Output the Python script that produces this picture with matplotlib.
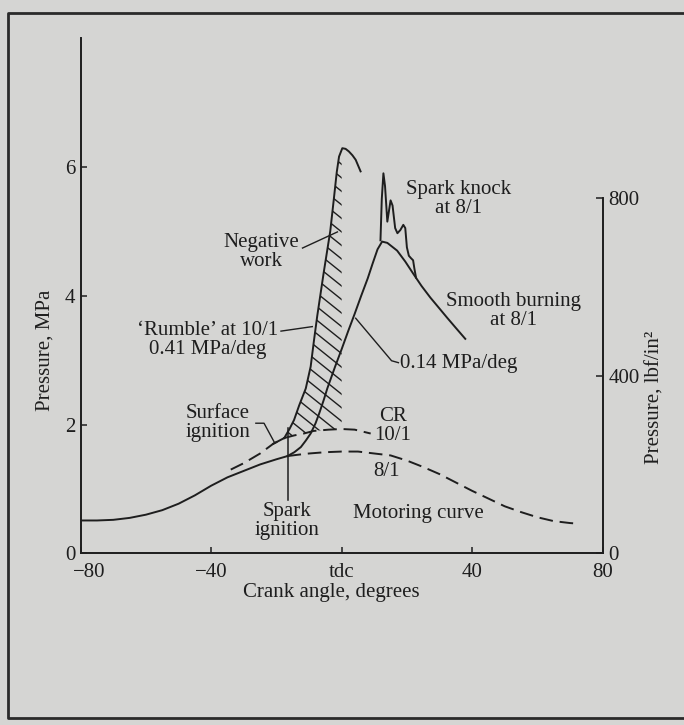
import numpy as np
import matplotlib
matplotlib.use('Agg')
from matplotlib import pyplot as plt
from matplotlib.collections import LineCollection
from matplotlib.patches import Polygon
from matplotlib.lines import Line2D
from matplotlib.transforms import ScaledTranslation

# crank angle (deg) / pressure (MPa)
mot8_ang = [-80, -75, -70, -65, -60, -55, -50, -45, -40, -35, -30, -25, -20, -16.6]
mot8_p = [0.51, 0.51, 0.52, 0.55, 0.60, 0.67, 0.77, 0.90, 1.05, 1.18, 1.28, 1.38, 1.46, 1.51]

mot8_dash_ang = [-16.6, -13.5, -10, -5, 0, 5, 10, 15, 20, 25, 30, 35, 40, 45, 50, 55, 60, 65, 70, 72.6]
mot8_dash_p = [1.51, 1.53, 1.55, 1.57, 1.58, 1.58, 1.55, 1.52, 1.44, 1.34, 1.23, 1.10, 0.97, 0.85,
               0.73, 0.64, 0.56, 0.50, 0.47, 0.46]

mot10_ang = [-34, -30, -25, -21, -17.6, -14.6, -11.6, -8.6, -4, 0, 4, 8.9]
mot10_p = [1.30, 1.40, 1.55, 1.70, 1.79, 1.83, 1.86, 1.90, 1.92, 1.93, 1.92, 1.86]

rumble_ang = [-17.6, -16, -14.6, -13, -11, -9.5, -8.5, -7.5, -6.5, -5.5, -4.5, -3.5, -2.4, -1.5,
              -0.8, 0.2, 1.2, 2.2, 3.3, 4.3, 5.8]
rumble_p = [1.79, 1.93, 2.07, 2.30, 2.56, 2.90, 3.30, 3.68, 4.02, 4.36, 4.68, 5.00, 5.50, 5.92,
            6.16, 6.29, 6.28, 6.24, 6.18, 6.11, 5.93]

smooth_ang = [-16.6, -14.5, -12.5, -11, -9.5, -8, -6.9, -5.5, -4.4, -2, 0, 2, 4, 6, 8, 9.5, 11,
              12.4, 14, 17, 19.5, 22.1, 24.5, 27.2, 30, 32.3, 35, 37.9]
smooth_p = [1.51, 1.57, 1.65, 1.75, 1.86, 2.02, 2.17, 2.38, 2.56, 2.90, 3.17, 3.45, 3.72, 4.00,
            4.27, 4.50, 4.72, 4.84, 4.82, 4.70, 4.53, 4.33, 4.15, 3.97, 3.80, 3.66, 3.50, 3.33]

knock_ang = [11.9, 12.3, 12.8, 13.3, 14.0, 15.0, 15.6, 16.4, 17.1, 18.0, 18.9, 19.5, 20.0, 20.6,
             21.3, 21.9, 22.3, 22.8]
knock_p = [4.86, 5.50, 5.90, 5.70, 5.15, 5.48, 5.40, 5.05, 4.97, 5.02, 5.10, 5.05, 4.75, 4.62,
           4.58, 4.55, 4.42, 4.28]

spark_ang = -16.6
xticks = [-80, -40, 0, 40, 80]
xticklabels = ['\u221280', '\u221240', 'tdc', '40', '80']
yticks = [0, 2, 4, 6]
psi_ticks = [0, 400, 800]
MPA_TO_PSI = 145.038

ink = '#1e1e1e'
bg = '#d5d5d3'
lw = 1.4
plt.rcParams['font.family'] = ['Liberation Serif', 'DejaVu Serif']
plt.rcParams['font.size'] = 15

fig = plt.figure(figsize=(6.84, 7.25), dpi=100, facecolor=bg)
ax = fig.add_axes([0.118, 0.2368, 0.763, 0.7107])
ax.set_facecolor('none')

# curves
ax.plot(mot8_ang, mot8_p, color=ink, lw=lw)
ax.plot(mot8_dash_ang, mot8_dash_p, color=ink, lw=lw, dashes=(7, 3.5))
ax.plot(mot10_ang, mot10_p, color=ink, lw=lw, dashes=(7, 3.5))
ax.plot(mot10_ang[3:5], mot10_p[3:5], color=ink, lw=lw)
ax.plot(rumble_ang, rumble_p, color=ink, lw=lw)
ax.plot(smooth_ang, smooth_p, color=ink, lw=lw)
ax.plot(knock_ang, knock_p, color=ink, lw=lw)

# negative work region: between rumble curve and 10/1 motoring, up to tdc
ra = np.array(rumble_ang); rp = np.array(rumble_p)
ma = np.array(mot10_ang); mp = np.array(mot10_p)
top = [(a, p) for a, p in zip(ra, rp) if a < 0] + [(0, np.interp(0, ra, rp))]
bot = [(0, np.interp(0, ma, mp))] + [(a, p) for a, p in zip(ma[::-1], mp[::-1]) if -17.6 < a < 0]
region = Polygon(top + bot, closed=True, fill=False, edgecolor='none')
ax.add_patch(region)
k = 0.8 * 3.27 / 64.4
segs = [[(-20, c + k * 20), (2, c - k * 2)] for c in np.arange(1.0, 7.5, 0.21)]
hatch = LineCollection(segs, colors=ink, linewidths=1.0)
hatch.set_clip_path(region)
ax.add_collection(hatch)

# spark ignition marker
ax.plot([spark_ang, spark_ang], [0.83, 1.95], color=ink, lw=1.1)

# leaders
lk = dict(color=ink, lw=1.0)
ax.plot([-12.0, -1.3], [4.74, 4.99], **lk)
ax.plot([-18.6, -9.0], [3.45, 3.52], **lk)
ax.plot([-26.3, -23.8, -20.7], [2.02, 2.02, 1.73], **lk)
ax.plot([4.3, 15.3, 17.4], [3.65, 2.99, 2.96], **lk)

# labels
tk = dict(ha='center', va='center', color=ink, linespacing=1.0)
ax.text(-24.5, 4.68, 'Negative\nwork', **tk)
ax.text(-41.2, 3.31, '\u2018Rumble\u2019 at 10/1\n0.41 MPa/deg', **tk)
ax.text(-37.9, 2.02, 'Surface\nignition', **tk)
ax.text(-16.8, 0.50, 'Spark\nignition', **tk)
ax.text(15.6, 1.97, 'CR\n10/1', **tk)
ax.text(13.8, 1.27, '8/1', **tk)
ax.text(23.4, 0.62, 'Motoring curve', **tk)
ax.text(35.8, 5.50, 'Spark knock\nat 8/1', **tk)
ax.text(52.6, 3.76, 'Smooth burning\nat 8/1', **tk)
ax.text(18.0, 2.95, '0.14 MPa/deg', ha='left', va='center', color=ink)

# axes
ax.set_xlim(-80, 80)
ax.set_ylim(0, 8)
ax.set_xticks(xticks)
ax.set_xticklabels(xticklabels)
ax.set_yticks(yticks)
for s in ['top', 'right']:
    ax.spines[s].set_visible(False)
for s in ['left', 'bottom']:
    ax.spines[s].set_color(ink)
    ax.spines[s].set_linewidth(1.4)
ax.tick_params(direction='in', length=4, width=1.1, color=ink, labelcolor=ink)
ax.tick_params(axis='x', pad=7)
ax.tick_params(axis='y', pad=4)
first = ax.get_xticklabels()[0]
first.set_transform(first.get_transform() + ScaledTranslation(0.09, 0, fig.dpi_scale_trans))

ax2 = ax.twinx()
ax2.set_ylim(0, 8 * MPA_TO_PSI)
ax2.set_yticks(psi_ticks)
for s in ['top', 'left', 'bottom']:
    ax2.spines[s].set_visible(False)
ax2.spines['right'].set_bounds(0, 800)
ax2.spines['right'].set_color(ink)
ax2.spines['right'].set_linewidth(1.4)
ax2.tick_params(direction='in', length=5, width=1.1, color=ink, labelcolor=ink, pad=4)

fig.text(45 / 684, 1 - 350 / 725, 'Pressure, MPa', rotation=90, ha='center', va='center', color=ink)
fig.text(655 / 684, 1 - 397 / 725, 'Pressure, lbf/in\u00b2', rotation=90, ha='center', va='center', color=ink)
fig.text(331 / 684, 1 - 593 / 725, 'Crank angle, degrees', ha='center', va='center', color=ink)

# page frame
fx = [700 / 684, 8 / 684, 8 / 684, 700 / 684]
fy = [1 - 13 / 725, 1 - 13 / 725, 1 - 718 / 725, 1 - 718 / 725]
fig.add_artist(Line2D(fx, fy, color='#2a2a2a', lw=2.0, transform=fig.transFigure))

fig.savefig('out.png', dpi=100, facecolor=bg)
